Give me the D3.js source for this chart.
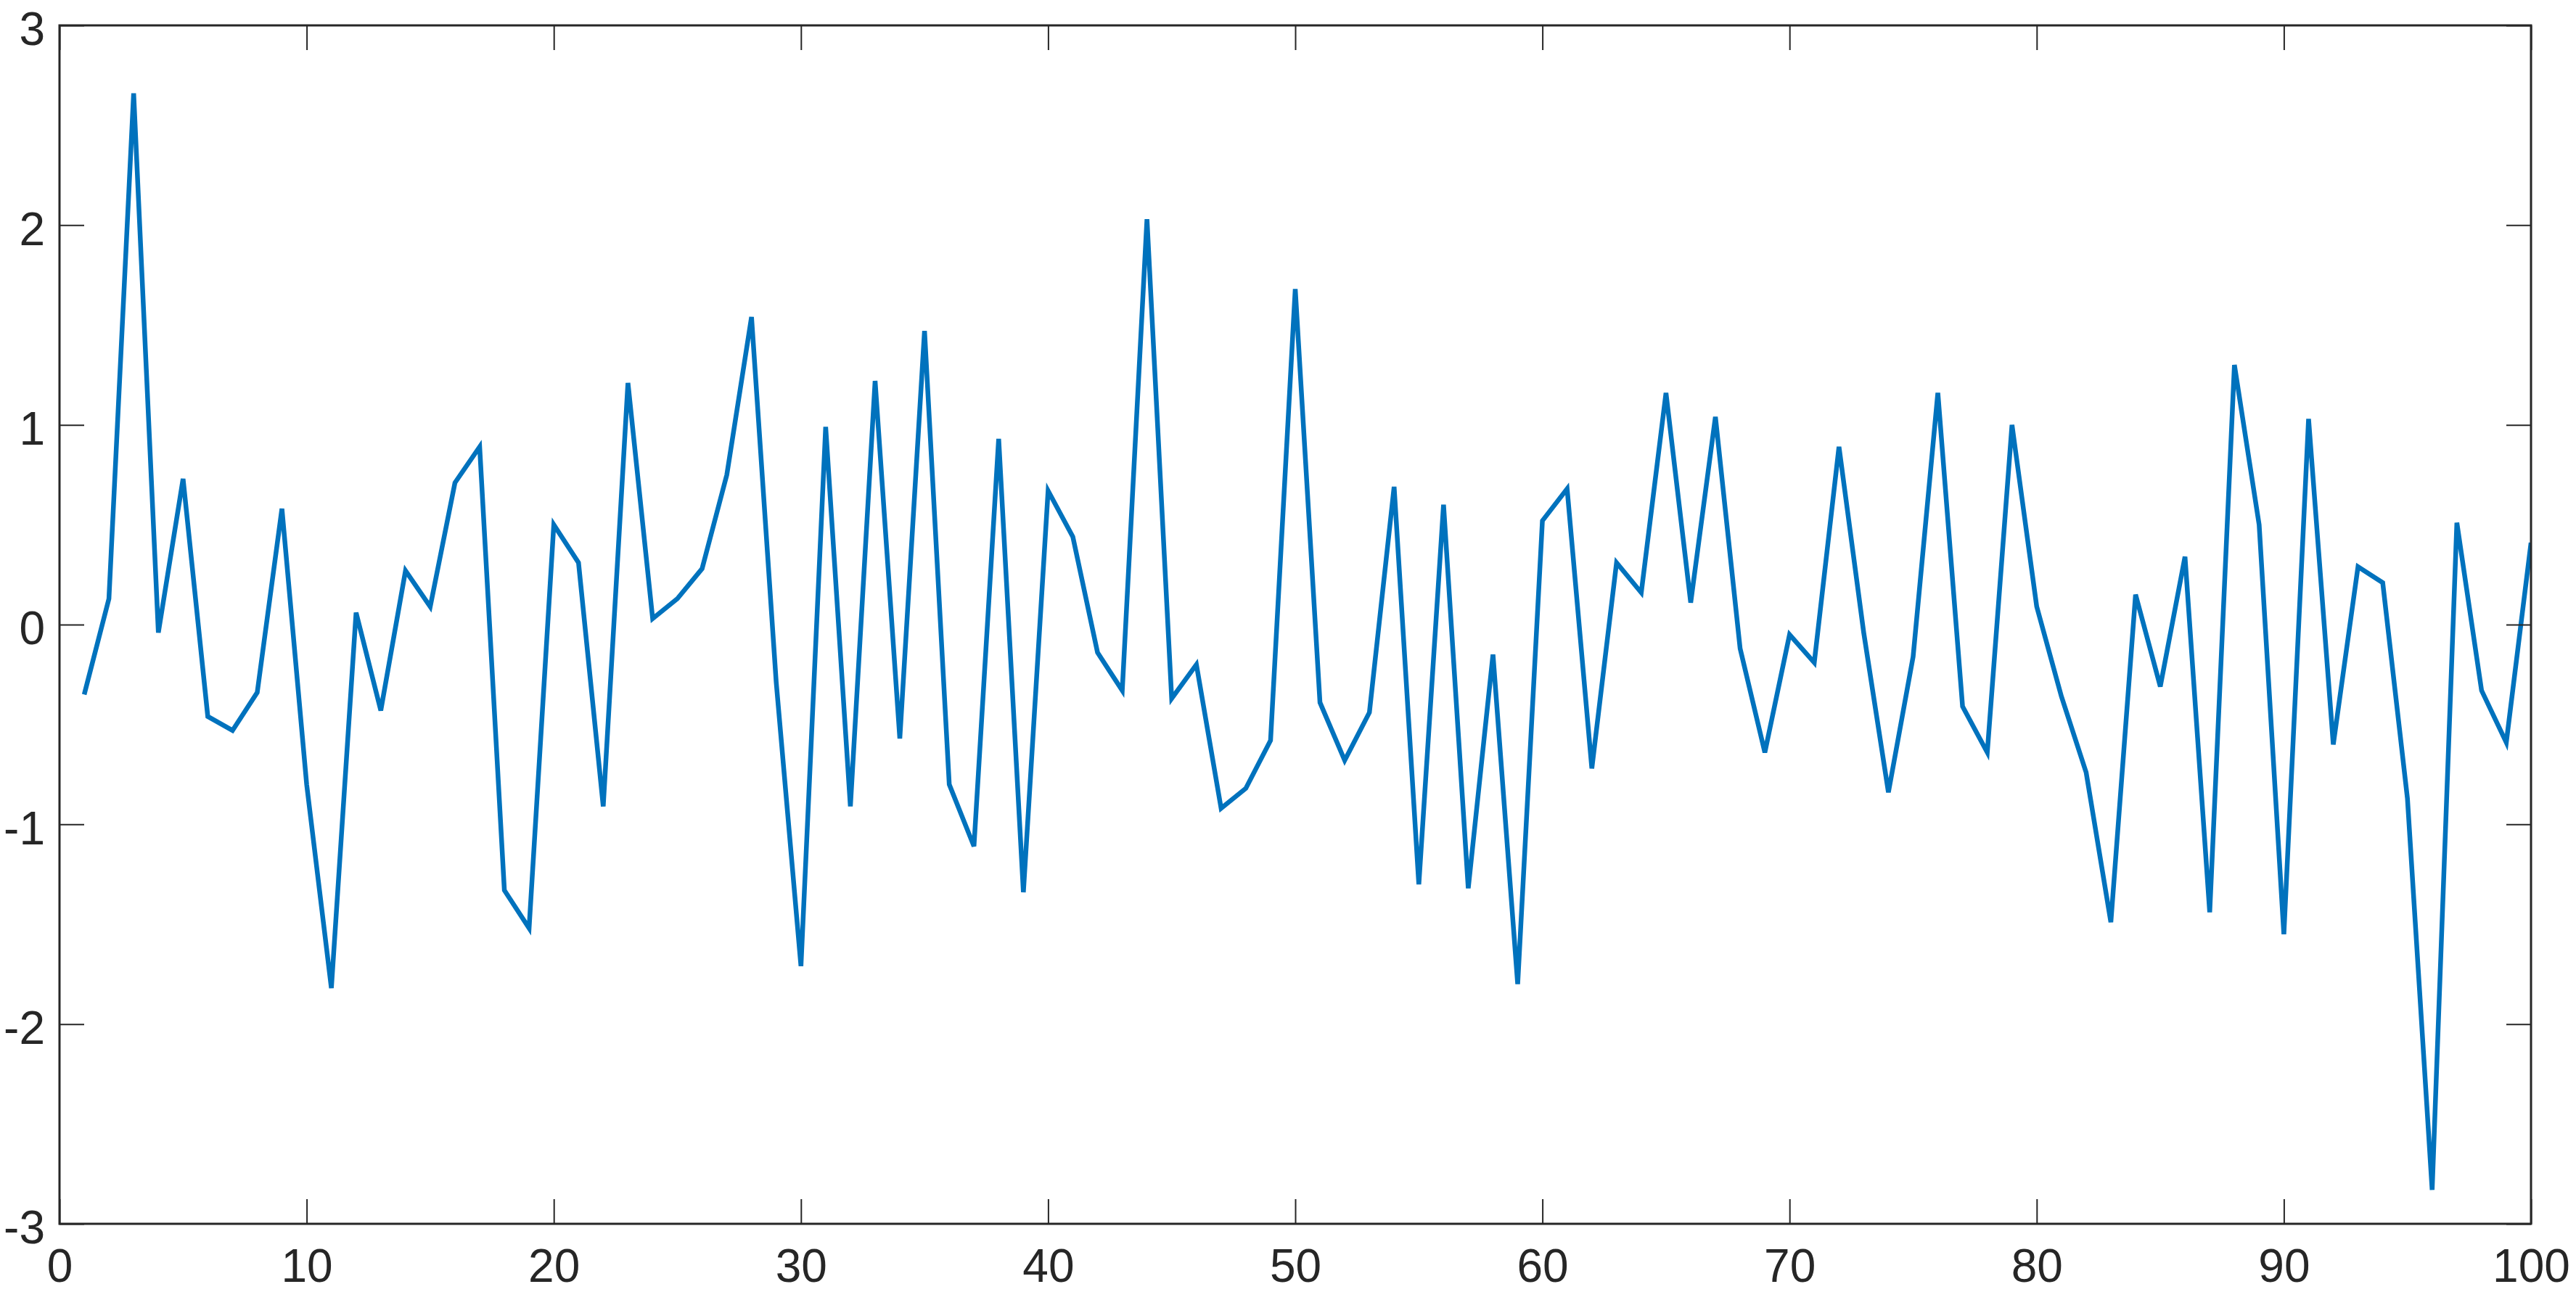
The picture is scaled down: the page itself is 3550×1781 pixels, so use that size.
<!DOCTYPE html>
<html>
<head>
<meta charset="utf-8">
<script src="https://cdn.jsdelivr.net/npm/d3@7"></script>
<style>
    body { margin: 0; background: #fff; }
    .tick text { font-family: "Liberation Sans", Arial, sans-serif; fill: #262626; }
</style>
</head>
<body>
<svg id="chart"></svg>
<script>
// sample index and value
const xs = d3.range(1, 101);
const ys = [
    -0.35, 0.13, 2.66, -0.04, 0.73, -0.46, -0.53, -0.34, 0.58, -0.80,
    -1.82, 0.06, -0.43, 0.27, 0.09, 0.71, 0.89, -1.33, -1.52, 0.50,
    0.31, -0.91, 1.21, 0.03, 0.13, 0.28, 0.75, 1.54, -0.29, -1.71,
    0.99, -0.91, 1.22, -0.57, 1.47, -0.80, -1.11, 0.93, -1.34, 0.67,
    0.44, -0.14, -0.33, 2.03, -0.37, -0.20, -0.92, -0.82, -0.58, 1.68,
    -0.39, -0.68, -0.44, 0.69, -1.30, 0.60, -1.32, -0.15, -1.80, 0.52,
    0.68, -0.72, 0.31, 0.16, 1.16, 0.11, 1.04, -0.12, -0.64, -0.05,
    -0.19, 0.89, -0.04, -0.84, -0.16, 1.16, -0.41, -0.64, 1.00, 0.09,
    -0.36, -0.74, -1.49, 0.15, -0.31, 0.34, -1.44, 1.30, 0.50, -1.55,
    1.03, -0.60, 0.29, 0.21, -0.87, -2.83, 0.51, -0.33, -0.59, 0.41
];

const xTicks = [0, 10, 20, 30, 40, 50, 60, 70, 80, 90, 100];
const xTickLabels = ["0", "10", "20", "30", "40", "50", "60", "70", "80", "90", "100"];
const yTicks = [-3, -2, -1, 0, 1, 2, 3];
const yTickLabels = ["-3", "-2", "-1", "0", "1", "2", "3"];

const width = 3550, height = 1781;
const margin = {left: 82, right: 62, top: 35, bottom: 94};
const tickLen = 34;
const axisColor = "#262626";

const svg = d3.select("#chart")
    .attr("width", width)
    .attr("height", height);

const x = d3.scaleLinear()
    .domain([0, 100])
    .range([margin.left, width - margin.right]);
const y = d3.scaleLinear()
    .domain([-3, 3])
    .range([height - margin.bottom, margin.top]);

// the series
const line = d3.line()
    .x((d, i) => x(xs[i]))
    .y(d => y(d));

svg.append("clipPath").attr("id", "plot-clip")
    .append("rect")
    .attr("x", x(0)).attr("y", y(3))
    .attr("width", x(100) - x(0)).attr("height", y(-3) - y(3));

svg.append("path")
    .datum(ys)
    .attr("clip-path", "url(#plot-clip)")
    .attr("fill", "none")
    .attr("stroke", "#0072BD")
    .attr("stroke-width", 6.5)
    .attr("stroke-linejoin", "miter")
    .attr("d", line);

// axes, ticks pointing inward on all four sides
function style_axis(g) {
    g.select(".domain").remove();
    g.selectAll(".tick line")
        .attr("stroke", axisColor)
        .attr("stroke-width", 2);
    g.selectAll(".tick text")
        .attr("font-size", 64);
}

svg.append("g")
    .attr("transform", `translate(0,${y(-3)})`)
    .call(d3.axisBottom(x)
        .tickValues(xTicks)
        .tickFormat((d, i) => xTickLabels[i])
        .tickSizeInner(-tickLen)
        .tickSizeOuter(0)
        .tickPadding(35))
    .call(style_axis);

svg.append("g")
    .attr("transform", `translate(0,${y(3)})`)
    .call(d3.axisTop(x)
        .tickValues(xTicks)
        .tickFormat("")
        .tickSizeInner(-tickLen)
        .tickSizeOuter(0))
    .call(style_axis);

svg.append("g")
    .attr("transform", `translate(${x(0)},0)`)
    .call(d3.axisLeft(y)
        .tickValues(yTicks)
        .tickFormat((d, i) => yTickLabels[i])
        .tickSizeInner(-tickLen)
        .tickSizeOuter(0)
        .tickPadding(20))
    .call(style_axis)
    .call(g => g.selectAll(".tick text").attr("dy", "0.42em"));

svg.append("g")
    .attr("transform", `translate(${x(100)},0)`)
    .call(d3.axisRight(y)
        .tickValues(yTicks)
        .tickFormat("")
        .tickSizeInner(-tickLen)
        .tickSizeOuter(0))
    .call(style_axis);

// box
svg.append("rect")
    .attr("x", x(0))
    .attr("y", y(3))
    .attr("width", x(100) - x(0))
    .attr("height", y(-3) - y(3))
    .attr("fill", "none")
    .attr("stroke", axisColor)
    .attr("stroke-width", 3);
</script>
</body>
</html>
